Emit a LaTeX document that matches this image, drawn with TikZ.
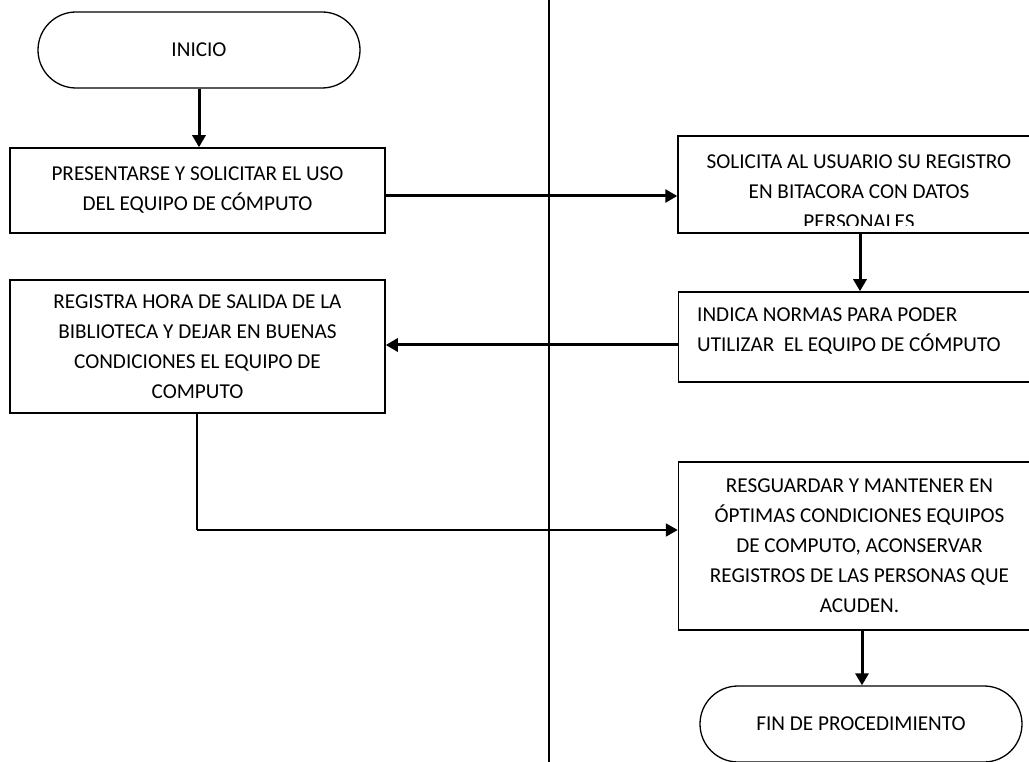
\documentclass[tikz,border=0pt]{standalone}
\usepackage{fontspec}
\setmainfont{Carlito}
\usetikzlibrary{arrows.meta}
\begin{document}
\begin{tikzpicture}[x=1pt,y=-1pt,
  every node/.style={font=\fontsize{21.2}{30}\selectfont},
  procbox/.style={draw, line width=1.5pt, minimum width=#1, inner sep=0pt},
  termbox/.style={draw, line width=1.3pt, rounded corners=38pt, minimum width=322pt, minimum height=76pt, inner sep=0pt},
  arr/.style={line width=3pt, -{Triangle[length=12pt,width=13pt]}},
  conn/.style={line width=2pt}]
\useasboundingbox[fill=white] (0,0) rectangle (1029,762);
% lane divider
\draw[conn] (549,0) coordinate (lt) -- (549,762) coordinate (lb);
% terminators
\node[termbox] (ini) at (199,50) {INICIO};
\node[termbox] (fin) at (861,724) {FIN DE PROCEDIMIENTO};
% left boxes
\node[procbox=375pt, minimum height=85pt, align=center] (b1) at (197.5,190.5)
  {PRESENTARSE Y SOLICITAR EL USO\\DEL EQUIPO DE CÓMPUTO};
\node[procbox=375pt, minimum height=133pt, align=center] (b4) at (197.5,346.5)
  {REGISTRA HORA DE SALIDA DE LA\\BIBLIOTECA Y DEJAR EN BUENAS\\CONDICIONES EL EQUIPO DE\\COMPUTO};
% right boxes
\node[procbox=362pt, minimum height=97pt] (b2) at (859,184.5) {};
\begin{scope}
\clip (b2.north west) rectangle ([yshift=8pt]b2.south east);
\node[align=center] (t2) at (859,192) {SOLICITA AL USUARIO SU REGISTRO\\EN BITACORA CON DATOS\\PERSONALES};
\end{scope}
\node[procbox=362pt, minimum height=90pt] (b3) at (859.5,337) {};
\node[align=left, anchor=west, inner sep=0pt] (t3) at (697,331) {INDICA NORMAS PARA PODER\\UTILIZAR~ EL EQUIPO DE CÓMPUTO};
\node[procbox=362pt, minimum height=168pt, align=center] (b5) at (859.5,546)
  {RESGUARDAR Y MANTENER EN\\ÓPTIMAS CONDICIONES EQUIPOS\\DE COMPUTO, ACONSERVAR\\REGISTROS DE LAS PERSONAS QUE\\ACUDEN.};
% connectors
\draw[arr] (ini.south) -- (b1.north -| ini.south);
\coordinate (a1) at (385,196);
\draw[arr] (a1) -- (a1 -| b2.west);
\coordinate (a2) at (860,233);
\draw[arr] (a2) -- (a2 |- b3.north);
\coordinate (a3) at (679,345);
\draw[arr] (a3) -- (a3 -| b4.east);
\coordinate (a4) at (197,413);
\coordinate (a5) at (197,530);
\draw[line width=2pt] (a4) -- (a5);
\draw[arr, line width=2pt] (a5) -- (a5 -| b5.west);
\coordinate (a6) at (862,630);
\draw[arr] (a6) -- (a6 |- fin.north);
\end{tikzpicture}
\end{document}
